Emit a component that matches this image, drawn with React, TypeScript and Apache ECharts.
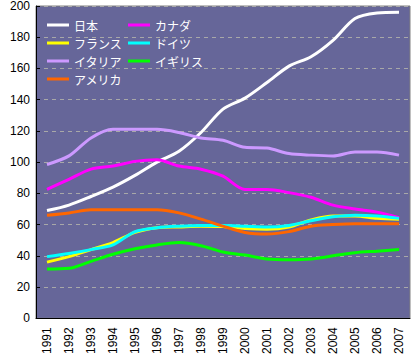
import React, { useEffect, useRef } from "react";
import * as echarts from "echarts";

const years = ["1991","1992","1993","1994","1995","1996","1997","1998","1999","2000","2001","2002","2003","2004","2005","2006","2007"];
const japan = [69, 72.5, 78, 84, 91.5, 100, 107, 119, 134, 141, 151, 161.5, 167.5, 178, 192, 195.5, 196];
const canada = [82.5, 89, 95.5, 97.5, 100.5, 101.5, 97.5, 95.5, 91, 82.5, 82.5, 80.5, 77.5, 72.5, 70, 68, 64.5];
const france = [36, 39.5, 44, 48.5, 55, 58, 58.5, 59, 58.8, 57.5, 57, 58.5, 63, 65.5, 65.5, 64, 63.5];
const germany = [39.5, 41.5, 44, 47, 55.5, 58, 59, 59.5, 59.5, 59, 58.5, 59.5, 62.5, 65, 66, 65.5, 64];
const italy = [98.5, 104, 115.5, 121, 121, 121, 119, 115.5, 114, 109.5, 109, 105.5, 104.5, 104, 106.5, 106.5, 104.5];
const uk = [31.5, 32, 36.5, 41, 44.5, 47, 48.5, 46.5, 42.5, 40.5, 38, 37.5, 38, 40, 42, 43, 44];
const usa = [66, 67.5, 69.5, 69.5, 69.5, 69.5, 67.5, 63.5, 59, 55, 54, 55.5, 59, 60, 60.5, 60.5, 60.5];

const seriesDefs = [
  { name: "日本", data: japan, color: "#ffffff" },
  { name: "カナダ", data: canada, color: "#ff00ff" },
  { name: "フランス", data: france, color: "#ffff00" },
  { name: "ドイツ", data: germany, color: "#00ffff" },
  { name: "イタリア", data: italy, color: "#cc99ff" },
  { name: "イギリス", data: uk, color: "#00ff00" },
  { name: "アメリカ", data: usa, color: "#ff6600" },
];

export default function App() {
  const ref = useRef<HTMLDivElement>(null);
  useEffect(() => {
    if (!ref.current) return;
    const chart = echarts.init(ref.current, null, { renderer: "svg" });
    const legendBase = {
      orient: "vertical" as const,
      top: 18,
      icon: "rect",
      itemWidth: 22,
      itemHeight: 3,
      itemGap: 4,
      padding: 0,
      textStyle: { color: "#ffffff", fontSize: 12, lineHeight: 14, fontFamily: "Noto Sans CJK JP" },
    };
    chart.setOption({
      animation: false,
      backgroundColor: "#ffffff",
      grid: {
        left: 36, right: 4, top: 6, bottom: 38,
        show: true, backgroundColor: "#666699", borderColor: "#808080", borderWidth: 1,
      },
      legend: [
        { ...legendBase, left: 47, data: ["日本", "フランス", "イタリア", "アメリカ"] },
        { ...legendBase, left: 128, data: ["カナダ", "ドイツ", "イギリス"] },
      ],
      xAxis: {
        type: "category",
        data: years,
        boundaryGap: true,
        axisLine: { lineStyle: { color: "#000000", width: 1 } },
        axisTick: { inside: true, length: 3, lineStyle: { color: "#000000" } },
        axisLabel: { rotate: 90, margin: 9, color: "#000000", fontSize: 12, fontFamily: "Liberation Sans" },
        splitLine: { show: false },
      },
      yAxis: {
        type: "value",
        min: 0, max: 200, interval: 20,
        axisLine: { show: true, lineStyle: { color: "#000000", width: 1 } },
        axisTick: { show: true, inside: true, length: 4, lineStyle: { color: "#000000" } },
        axisLabel: { margin: 6, color: "#000000", fontSize: 12, fontFamily: "Liberation Sans" },
        splitLine: { show: true, lineStyle: { color: "#a8a8a8", type: [4, 4], width: 1 } },
      },
      series: seriesDefs.map((s) => ({
        type: "line",
        name: s.name,
        data: s.data,
        smooth: 0.3,
        symbol: "none",
        itemStyle: { color: s.color },
        lineStyle: { color: s.color, width: 3 },
      })),
    });
    return () => chart.dispose();
  }, []);
  return <div ref={ref} style={{ position: "fixed", left: 0, top: 0, width: 414, height: 357 }} />;
}
